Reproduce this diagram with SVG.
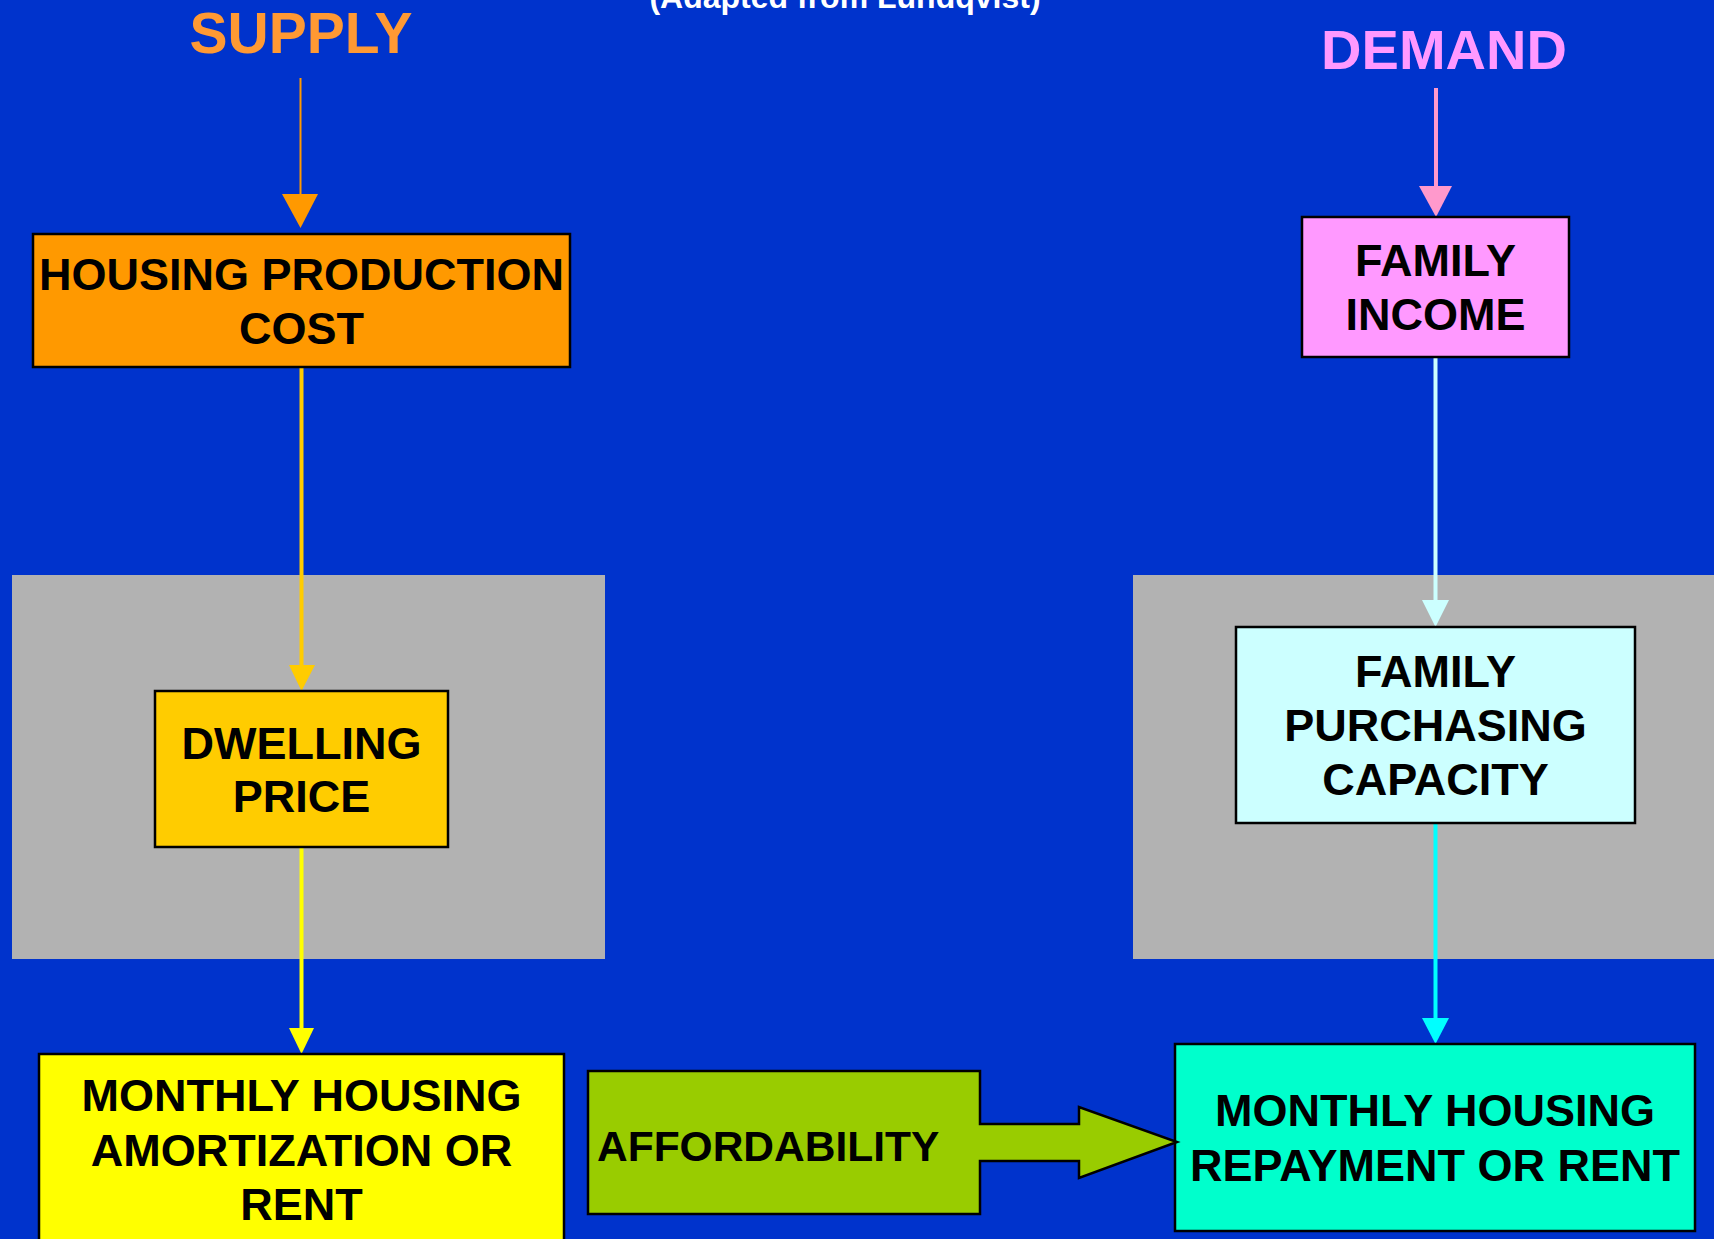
<svg xmlns="http://www.w3.org/2000/svg" width="1714" height="1239" viewBox="0 0 1714 1239">
<style>
text{font-family:"Liberation Sans",Arial,sans-serif;font-weight:bold;text-anchor:middle}
.lbl{font-size:45px;fill:#000}
.box{stroke:#000;stroke-width:2.5}
.panel{fill:#B2B2B2}
</style>
<rect x="0" y="0" width="1714" height="1239" fill="#0033CC"/>
<g id="panels">
<rect class="panel" x="12" y="575" width="593" height="384"/>
<rect class="panel" x="1133" y="575" width="581" height="384"/>
</g>
<text id="title" x="845" y="8" font-size="32" fill="#FFFFFF">(Adapted from Lundqvist)</text>
<text id="supply" x="301" y="53" font-size="57" fill="#FF9933">SUPPLY</text>
<text id="demand" x="1444" y="69" font-size="56" fill="#FF99FF">DEMAND</text>
<g id="connectors">
<line x1="300.5" y1="78" x2="300.5" y2="196" stroke="#FF9900" stroke-width="2"/>
<polygon points="282,194 318,194 300.5,228" fill="#FF9900"/>
<line x1="1436" y1="88" x2="1436" y2="188" stroke="#FF99CC" stroke-width="4"/>
<polygon points="1419,186 1452,186 1436,217" fill="#FF99CC"/>
<line x1="301.5" y1="367" x2="301.5" y2="667" stroke="#FFCC00" stroke-width="4"/>
<polygon points="289,665 315,665 301.5,691" fill="#FFCC00"/>
<line x1="1435.5" y1="357" x2="1435.5" y2="602" stroke="#CCFFFF" stroke-width="4"/>
<polygon points="1422,600 1449,600 1435.5,627" fill="#CCFFFF"/>
<line x1="301.5" y1="847" x2="301.5" y2="1030" stroke="#FFFF00" stroke-width="4"/>
<polygon points="289,1028 314,1028 301.5,1054" fill="#FFFF00"/>
<line x1="1435.5" y1="823" x2="1435.5" y2="1020" stroke="#00FFFF" stroke-width="4"/>
<polygon points="1422,1018 1449,1018 1435.5,1044" fill="#00FFFF"/>
</g>
<g id="housing-production-cost">
<rect class="box" x="33" y="234" width="537" height="133" fill="#FF9900"/>
<text class="lbl" x="301.5" y="290">HOUSING PRODUCTION</text>
<text class="lbl" x="301.5" y="344">COST</text>
</g>
<g id="family-income">
<rect class="box" x="1302" y="217" width="267" height="140" fill="#FF99FF"/>
<text class="lbl" x="1435.5" y="276">FAMILY</text>
<text class="lbl" x="1435.5" y="330">INCOME</text>
</g>
<g id="dwelling-price">
<rect class="box" x="155" y="691" width="293" height="156" fill="#FFCC00"/>
<text class="lbl" x="301.5" y="759">DWELLING</text>
<text class="lbl" x="301.5" y="812">PRICE</text>
</g>
<g id="family-purchasing-capacity">
<rect class="box" x="1236" y="627" width="399" height="196" fill="#CCFFFF"/>
<text class="lbl" x="1435.5" y="687">FAMILY</text>
<text class="lbl" x="1435.5" y="741">PURCHASING</text>
<text class="lbl" x="1435.5" y="795">CAPACITY</text>
</g>
<g id="monthly-amortization">
<rect class="box" x="39" y="1054" width="525" height="200" fill="#FFFF00"/>
<text class="lbl" x="301.5" y="1111">MONTHLY HOUSING</text>
<text class="lbl" x="301.5" y="1166">AMORTIZATION OR</text>
<text class="lbl" x="301.5" y="1220">RENT</text>
</g>
<g id="monthly-repayment">
<rect class="box" x="1175" y="1044" width="520" height="187" fill="#00FFCC"/>
<text class="lbl" x="1435" y="1126">MONTHLY HOUSING</text>
<text class="lbl" x="1435" y="1181">REPAYMENT OR RENT</text>
</g>
<g id="affordability">
<polygon class="box" points="588,1071 980,1071 980,1124 1079,1124 1079,1107 1177,1142 1079,1178 1079,1161 980,1161 980,1214 588,1214" fill="#99CC00"/>
<text x="597" y="1161" font-size="42.5" fill="#000" style="text-anchor:start">AFFORDABILITY</text>
</g>
</svg>
